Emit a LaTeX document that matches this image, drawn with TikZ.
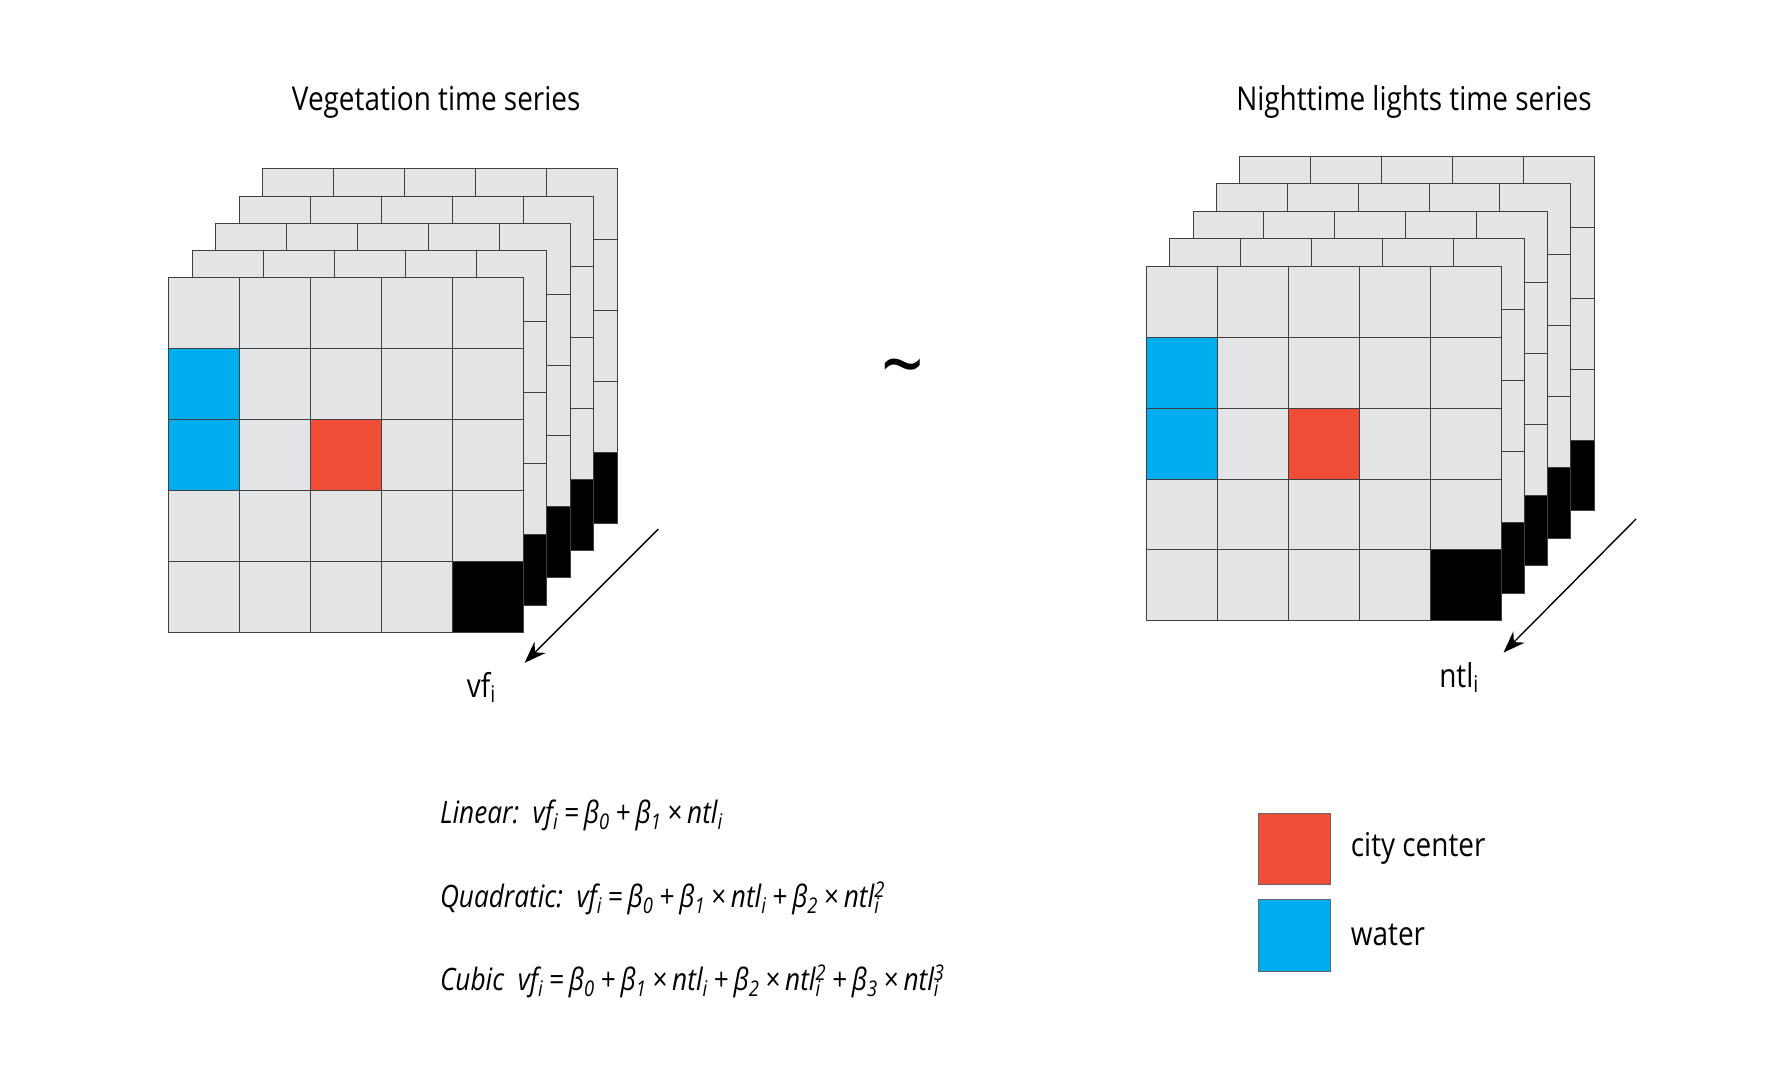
\documentclass[tikz,border=0pt]{standalone}
\usetikzlibrary{arrows.meta}
\usepackage{fontspec}
\setmainfont{Open Sans}[FakeStretch=0.85]
\definecolor{cg}{HTML}{E3E4E5}
\definecolor{cb}{HTML}{00AEEF}
\definecolor{cr}{HTML}{F04E37}
\tikzset{lbl/.style={font=\fontsize{16.5}{19}\selectfont, inner sep=0pt},
 fml/.style={font=\fontsize{15.5}{18}\selectfont\itshape, anchor=west, inner sep=0pt},
 gl/.style={line width=0.5pt,black!75}}
\newcommand{\sbsp}[2]{\rlap{\textsubscript{#1}}\textsuperscript{#2}}
\newcommand{\op}[1]{\,#1\,}
\newcommand{\layer}[3]{%
  \begin{scope}[shift={(#1,{-(#2)})}]
  \fill[cg] (0,0) rectangle (313,-313);
  \ifnum#3=1
   \fill[cb] (0,-62.6) rectangle (62.6,-187.8);
   \fill[cr] (125.2,-125.2) rectangle (187.8,-187.8);
  \fi
  \fill[black] (250.4,-250.4) rectangle (313,-313);
  \draw[gl] (0,0) grid[step=62.6] (313,-313);
  \draw[gl] (0,0) rectangle (313,-313);
  \end{scope}}
\begin{document}
\begin{tikzpicture}[x=0.02cm,y=0.02cm]
\useasboundingbox (0,0) rectangle (1564,-953);
\foreach \i in {4,3,2,1} {\layer{149+20.75*\i}{245-24*\i}{0}}
\layer{149}{245}{1}
\foreach \i in {4,3,2,1} {\layer{1012+20.5*\i}{235-24.25*\i}{0}}
\layer{1012}{235}{1}
\node[lbl] (t1) at (385,-90) {Vegetation time series};
\node[lbl] (t2) at (1248,-90) {Nighttime lights time series};
\node[font=\fontsize{44}{44}\selectfont] (tl) at (797,-333) {\textasciitilde};
\coordinate (a1) at (581,-467); \coordinate (a2) at (463,-585);
\draw[-{Stealth[length=11pt,width=8pt]},line width=0.7pt] (a1) -- (a2);
\coordinate (b1) at (1444,-458); \coordinate (b2) at (1327,-576);
\draw[-{Stealth[length=11pt,width=8pt]},line width=0.7pt] (b1) -- (b2);
\node[lbl] (vf) at (425,-607) {vf\textsubscript{i}};
\node[lbl] (ntl) at (1288,-598) {ntl\textsubscript{i}};
\node[fml] (f1) at (388,-720) {Linear:\ \ vf\textsubscript{i}\op{=}β\textsubscript{0}\op{+}β\textsubscript{1}\op{×}ntl\textsubscript{i}};
\node[fml] (f2) at (388,-793) {Quadratic:\ \ vf\textsubscript{i}\op{=}β\textsubscript{0}\op{+}β\textsubscript{1}\op{×}ntl\textsubscript{i}\op{+}β\textsubscript{2}\op{×}ntl\sbsp{i}{2}};
\node[fml] (f3) at (388,-866) {Cubic\ \ vf\textsubscript{i}\op{=}β\textsubscript{0}\op{+}β\textsubscript{1}\op{×}ntl\textsubscript{i}\op{+}β\textsubscript{2}\op{×}ntl\sbsp{i}{2}\op{+}β\textsubscript{3}\op{×}ntl\sbsp{i}{3}};
\draw[fill=cr,draw=black!60,line width=0.4pt] (1111,-718) rectangle (1174,-781);
\draw[fill=cb,draw=black!60,line width=0.4pt] (1111,-794) rectangle (1174,-857);
\node[lbl,anchor=west] (l1) at (1192,-749) {city center};
\node[lbl,anchor=west] (l2) at (1192,-825) {water};
\end{tikzpicture}
\end{document}
